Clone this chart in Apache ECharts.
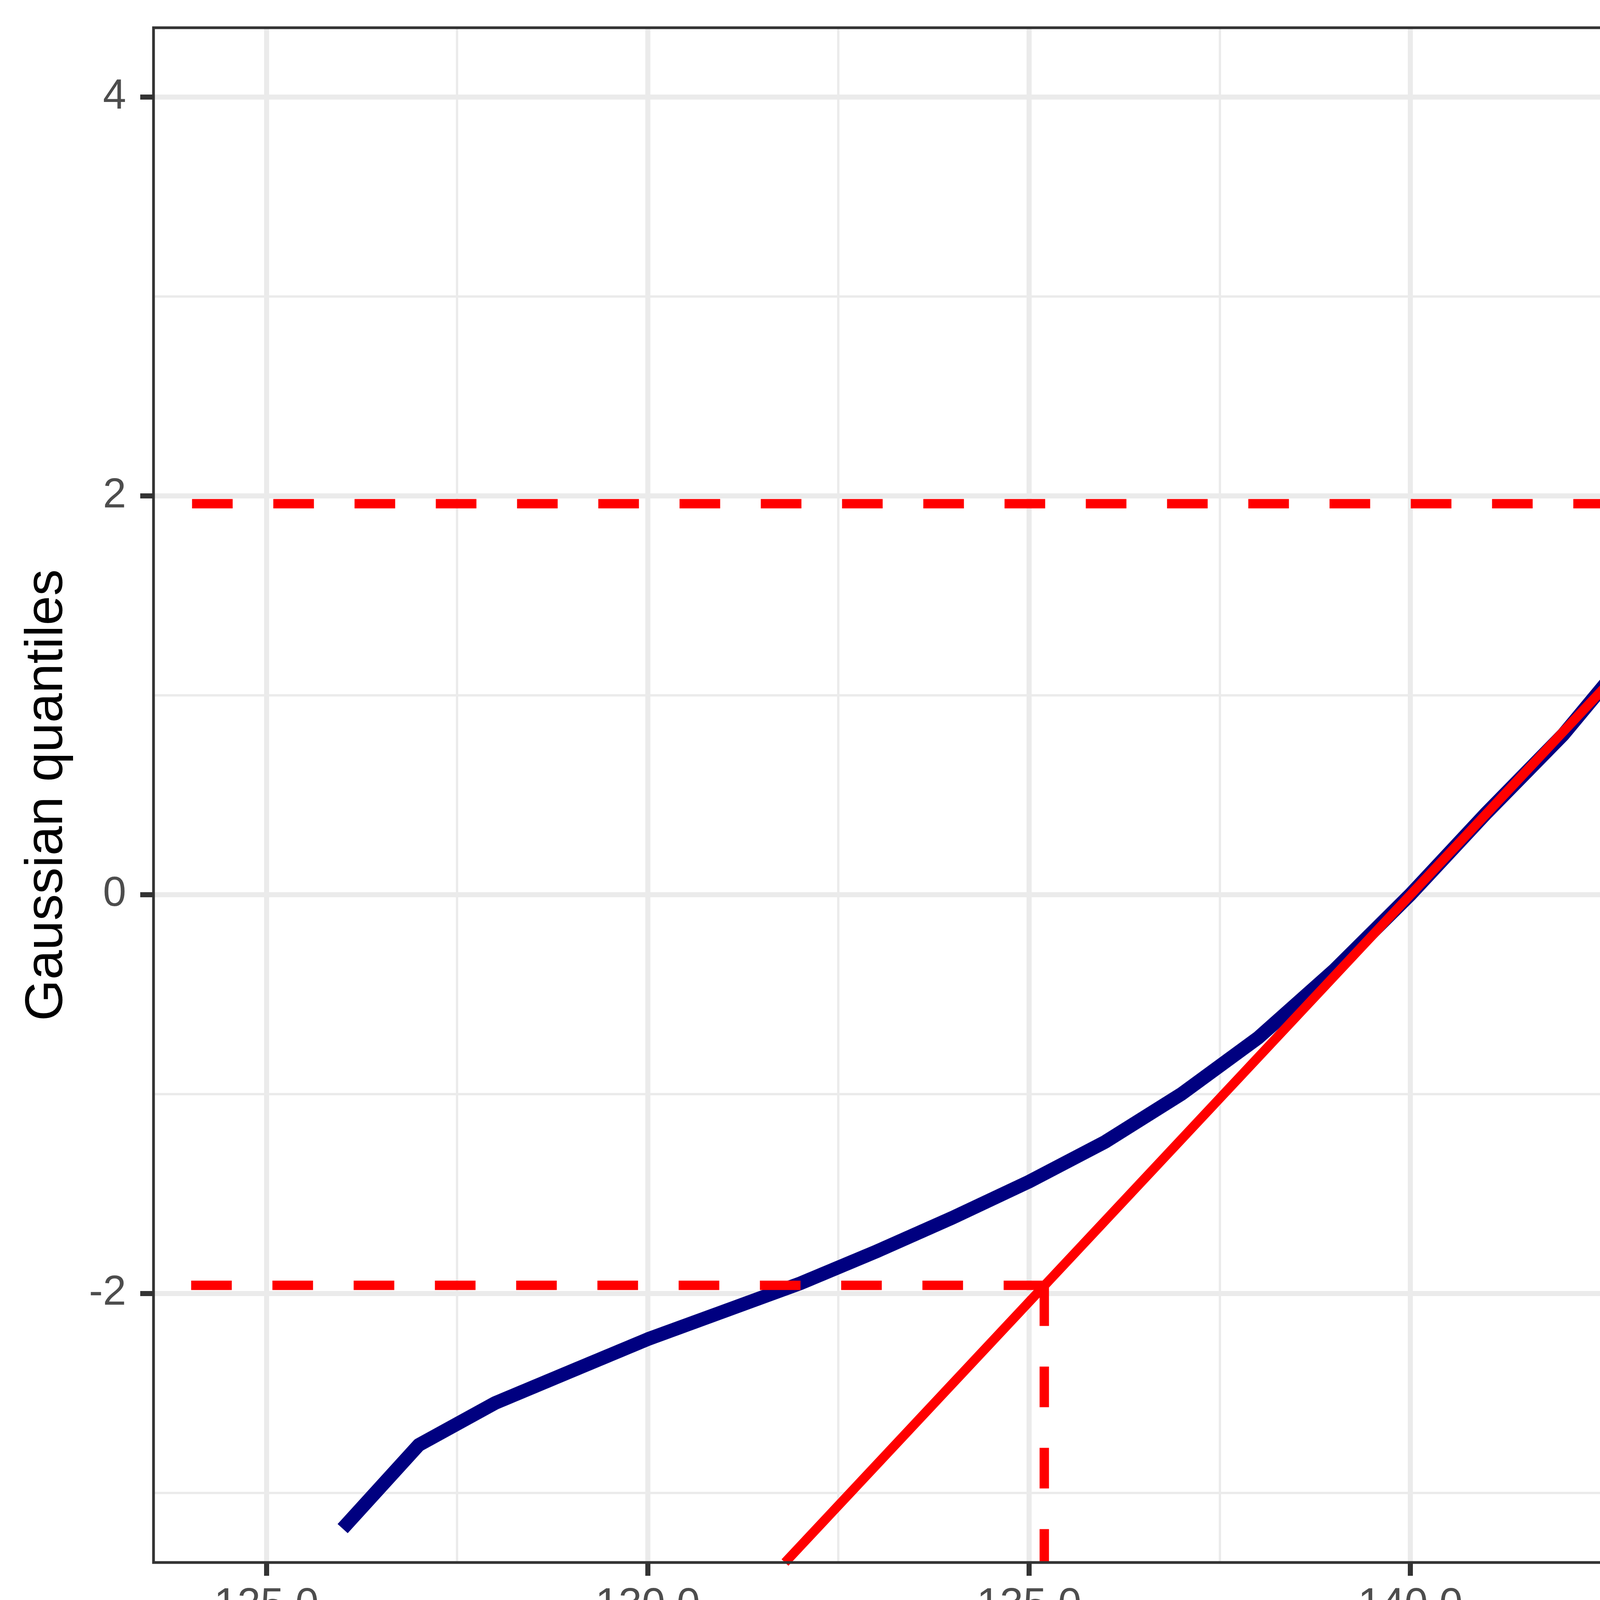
<!DOCTYPE html>
<html>
<head>
<meta charset="utf-8">
<script src="https://cdn.jsdelivr.net/npm/echarts@6.0.0/dist/echarts.min.js"></script>
<style>
  html, body { margin: 0; padding: 0; background: #fff; overflow: hidden; }
  #chartsDiv { width: 6899px; height: 4396px; }
</style>
</head>
<body>
<div id="chartsDiv"></div>
<script>
// values
var concentration = [126, 127, 128, 129, 130, 131, 132, 133, 134, 135, 136, 137, 138, 139, 140,
  141, 142, 143, 144, 145, 146, 147, 148, 149, 150, 151, 152, 153, 154]
var gaussianQuantiles = [-3.18, -2.76, -2.55, -2.39, -2.23, -2.09, -1.95, -1.79, -1.62, -1.44, -1.24, -1.00, -0.72, -0.38, 0.00,
  0.41, 0.80, 1.26, 1.65, 2.03, 2.40, 2.69, 2.90, 3.09, 3.25, 3.37, 3.48, 3.67, 4.10]
// reference line, where it meets the bottom and top of the panel
var refLineX = [131.8, 150.65]
var refLineY = [-3.35, 4.347]
// +/- 1.96 limits and matching concentrations
var limitZ = [-1.96, 1.96]
var limitConc = [135.2, 144.8]
// ticks
var xTicks = [125, 130, 135, 140, 145, 150, 155]
var xMinorTicks = [127.5, 132.5, 137.5, 142.5, 147.5, 152.5]
var yTicks = [-2, 0, 2, 4]
var yMinorTicks = [-3, -1, 1, 3]

var xMin = 123.52
var xMax = 156.48
var yMin = -3.35
var yMax = 4.347

var fontName = '"Liberation Sans", Arial, sans-serif'

var realChart = echarts.init(document.getElementById('chartsDiv'), null, {
  renderer: 'canvas'
})

var blueData = concentration.map(function(c, i) {
  return [c, gaussianQuantiles[i]]
})
var refData = refLineX.map(function(x, i) {
  return [x, refLineY[i]]
})

var dashStyle = {
  color: '#FF0000',
  width: 24,
  type: [104, 104],
  cap: 'butt'
}

var dashSeries = []
limitZ.forEach(function(z, i) {
  // horizontal, drawn from the line out to the left edge
  dashSeries.push({
    type: 'line',
    xAxisIndex: 0,
    yAxisIndex: 0,
    data: [[limitConc[i], z], [xMin, z]],
    showSymbol: false,
    silent: true,
    clip: true,
    z: 4,
    lineStyle: dashStyle
  })
  // vertical, drawn from the line down to the bottom edge
  dashSeries.push({
    type: 'line',
    xAxisIndex: 0,
    yAxisIndex: 0,
    data: [[limitConc[i], z], [limitConc[i], yMin]],
    showSymbol: false,
    silent: true,
    clip: true,
    z: 4,
    lineStyle: dashStyle
  })
})

var option = {
  animation: false,
  backgroundColor: '#FFFFFF',
  grid: {
    left: 393,
    top: 71,
    right: 71,
    bottom: 396,
    containLabel: false,
    outerBoundsMode: 'none',
    show: true,
    backgroundColor: 'transparent',
    borderColor: '#333333',
    borderWidth: 7,
    z: 10
  },
  xAxis: [
    {
      type: 'value',
      position: 'bottom',
      min: xMin,
      max: xMax,
      name: 'Concentration',
      nameLocation: 'middle',
      nameGap: 190,
      nameTextStyle: { color: '#000000', fontSize: 136, fontFamily: fontName },
      axisLine: { show: false, onZero: false },
      axisTick: {
        show: true,
        customValues: xTicks,
        length: 34,
        lineStyle: { color: '#333333', width: 13 }
      },
      axisLabel: {
        customValues: xTicks,
        margin: 57,
        color: '#4D4D4D',
        fontSize: 107,
        fontFamily: fontName,
        formatter: function(v) {
          return v.toFixed(1)
        }
      },
      splitLine: { show: true, lineStyle: { color: '#EBEBEB', width: 13 } }
    },
    {
      // minor grid only
      type: 'value',
      position: 'top',
      min: xMin,
      max: xMax,
      axisLine: { show: false, onZero: false },
      axisTick: { show: false, customValues: xMinorTicks },
      axisLabel: { show: false, customValues: xMinorTicks },
      splitLine: { show: true, lineStyle: { color: '#EBEBEB', width: 6 } }
    }
  ],
  yAxis: [
    {
      type: 'value',
      position: 'left',
      min: yMin,
      max: yMax,
      name: 'Gaussian quantiles',
      nameLocation: 'middle',
      nameGap: 204,
      nameTextStyle: { color: '#000000', fontSize: 136, fontFamily: fontName },
      axisLine: { show: false, onZero: false },
      axisTick: {
        show: true,
        customValues: yTicks,
        length: 34,
        lineStyle: { color: '#333333', width: 13 }
      },
      axisLabel: {
        customValues: yTicks,
        margin: 70,
        color: '#4D4D4D',
        fontSize: 107,
        fontFamily: fontName,
        formatter: function(v) {
          return String(v)
        }
      },
      splitLine: { show: true, lineStyle: { color: '#EBEBEB', width: 13 } }
    },
    {
      // minor grid only
      type: 'value',
      position: 'right',
      min: yMin,
      max: yMax,
      axisLine: { show: false, onZero: false },
      axisTick: { show: false, customValues: yMinorTicks },
      axisLabel: { show: false, customValues: yMinorTicks },
      splitLine: { show: true, lineStyle: { color: '#EBEBEB', width: 6 } }
    }
  ],
  series: [
    {
      name: 'quantiles',
      type: 'line',
      xAxisIndex: 0,
      yAxisIndex: 0,
      data: blueData,
      showSymbol: false,
      silent: true,
      clip: true,
      z: 2,
      lineStyle: { color: '#000080', width: 35, join: 'round', cap: 'butt' }
    },
    {
      name: 'reference',
      type: 'line',
      xAxisIndex: 0,
      yAxisIndex: 0,
      data: refData,
      showSymbol: false,
      silent: true,
      clip: true,
      z: 3,
      lineStyle: { color: '#FF0000', width: 24 }
    }
  ].concat(dashSeries)
}

realChart.setOption(option)
</script>
</body>
</html>
